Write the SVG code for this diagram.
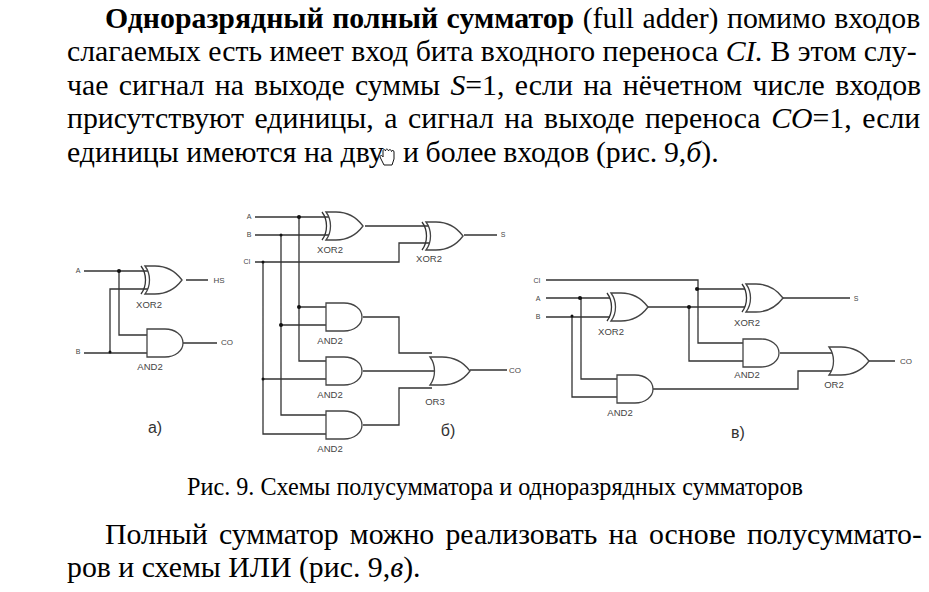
<svg xmlns="http://www.w3.org/2000/svg" width="929" height="592" viewBox="0 0 929 592">
<style>
.t{font-family:"Liberation Serif","Times New Roman",serif;font-size:29.8px;fill:#000}
.c{font-family:"Liberation Serif","Times New Roman",serif;font-size:24.2px;fill:#000}
.l{font-family:"Liberation Sans",Arial,sans-serif;font-size:9.5px;fill:#444;text-anchor:middle}
.m{font-size:8px}
.n{font-size:7px}
.s{font-family:"Liberation Sans",Arial,sans-serif;font-size:16px;fill:#333;text-anchor:middle}
.w{fill:none;stroke:#333;stroke-width:1.3}
.g{fill:#fff;stroke:#444;stroke-width:1.3}
.d{fill:#111}
</style>
<defs>
<g id="and"><path class="g" d="M0 0H18C28 0 36 6 36 14S28 28 18 28H0Z"/></g>
<g id="or"><path class="g" d="M0 0H12C24 0 34 6 40 14C34 22 24 28 12 28H0C6 20 6 8 0 0Z"/></g>
<g id="xor"><path class="g" d="M4 0H14C26 0 35 6 41 14C35 22 26 28 14 28H4C10 20 10 8 4 0Z"/><path class="w" d="M0 0C6 8 6 20 0 28"/></g>
</defs>
<rect width="929" height="592" fill="#fff"/>
<text class="t" y="28" word-spacing="1"><tspan x="105" font-weight="bold">Одноразрядный полный сумматор</tspan> (full adder) помимо входов</text>
<text class="t" x="67" y="61">слагаемых есть имеет вход бита входного переноса <tspan font-style="italic">CI.</tspan> В этом слу-</text>
<text class="t" x="67" y="95" word-spacing="2.9">чае сигнал на выходе суммы <tspan font-style="italic">S</tspan>=1, если на нёчетном числе входов</text>
<text class="t" x="67" y="128" word-spacing="3.1">присутствуют единицы, а сигнал на выходе переноса <tspan font-style="italic">CO</tspan>=1, если</text>
<text class="t" x="67" y="162">единицы имеются на дву</text>
<text class="t" x="403" y="162" word-spacing="-0.8">и более входов (рис. 9,<tspan font-style="italic">б</tspan>).</text>
<text class="c" x="187" y="495">Рис. 9. Схемы полусумматора и одноразрядных сумматоров</text>
<text class="t" x="105" y="544" word-spacing="3.7">Полный сумматор можно реализовать на основе полусуммато-</text>
<text class="t" x="67" y="577">ров и схемы ИЛИ (рис. 9,<tspan font-style="italic">в</tspan>).</text>
<path fill="#fff" stroke="#111" stroke-width="1" d="M384 165L380 157C380 155 382 155 383 157V151C383 149 385 149 385.500 151C385.500 148.500 388 148.500 388.500 151C389 149 391 149 391.500 151.500C392 150 394 150 394 152V159L392 165Z"/>
<g id="connectors">
<path class="w" d="M84 271H148M119 271V335H147M84 353H147M110 353V289H148M186 280H208M183 343H217"/>
<path class="w" d="M255 217H330M255 235H330M255 262H399V243H430M263 262V434H326M281 235V415H326M299 217V361H326M299 307H326M281 325H326M263 379H326M365 226H429M464 235H497M363 317H399V353H432M363 371H436M363 425H399V388H432M470 370H507"/>
<path class="w" d="M546 280H698V343H743M697 289H745M546 298H610M546 317H610M581 298V379H617M572 317V397H617M648 307H745M689 307V361H743M783 298H850M780 353H833M653 389H798V371H833M869 361H895"/>
<g class="d"><circle cx="119" cy="271" r="2"/><circle cx="110" cy="352" r="1.500"/><circle cx="263" cy="262" r="1.500"/><circle cx="263" cy="379" r="1.500"/><circle cx="281" cy="235" r="1.500"/><circle cx="281" cy="325" r="2"/><circle cx="299" cy="217" r="2"/><circle cx="299" cy="307" r="2"/><circle cx="580" cy="298" r="2"/><circle cx="572" cy="316" r="1.500"/><circle cx="697" cy="289" r="2"/><circle cx="689" cy="307" r="2"/></g>
</g>
<g id="a-xor"><use href="#xor" x="141" y="266"/><text class="l" x="149" y="308">XOR2</text></g>
<g id="a-and"><use href="#and" x="147" y="329"/><text class="l" x="150" y="370">AND2</text></g>
<g id="b-xor1"><use href="#xor" x="322" y="212"/><text class="l" x="330" y="253">XOR2</text></g>
<g id="b-xor2"><use href="#xor" x="422" y="222"/><text class="l" x="429" y="262">XOR2</text></g>
<g id="b-and1"><use href="#and" x="326" y="303"/><text class="l" x="330" y="344">AND2</text></g>
<g id="b-and2"><use href="#and" x="326" y="357"/><text class="l" x="330" y="398">AND2</text></g>
<g id="b-and3"><use href="#and" x="326" y="411"/><text class="l" x="330" y="452">AND2</text></g>
<g id="b-or3"><use href="#or" x="430" y="357"/><text class="l" x="435" y="405">OR3</text></g>
<g id="c-xor1"><use href="#xor" x="607" y="293"/><text class="l" x="611" y="335">XOR2</text></g>
<g id="c-xor2"><use href="#xor" x="742" y="284"/><text class="l" x="747" y="326">XOR2</text></g>
<g id="c-and1"><use href="#and" x="743" y="339"/><text class="l" x="747" y="378">AND2</text></g>
<g id="c-and2"><use href="#and" x="617" y="375"/><text class="l" x="620" y="416">AND2</text></g>
<g id="c-or2"><use href="#or" x="829" y="347"/><text class="l" x="834" y="388">OR2</text></g>
<g id="labels">
<text class="l n" x="78" y="273">A</text><text class="l n" x="78" y="354">B</text><text class="l m" x="219" y="283">HS</text><text class="l m" x="227" y="345">CO</text>
<text class="l n" x="249" y="219">A</text><text class="l n" x="249" y="237">B</text><text class="l n" x="247" y="264">CI</text><text class="l n" x="503" y="237">S</text><text class="l m" x="515" y="373">CO</text>
<text class="l n" x="537" y="283">CI</text><text class="l n" x="538" y="301">A</text><text class="l n" x="538" y="319">B</text><text class="l n" x="856" y="301">S</text><text class="l m" x="906" y="364">CO</text>
<text class="s" x="155" y="433">а)</text><text class="s" x="448" y="436">б)</text><text class="s" x="738" y="438">в)</text>
</g>
</svg>
